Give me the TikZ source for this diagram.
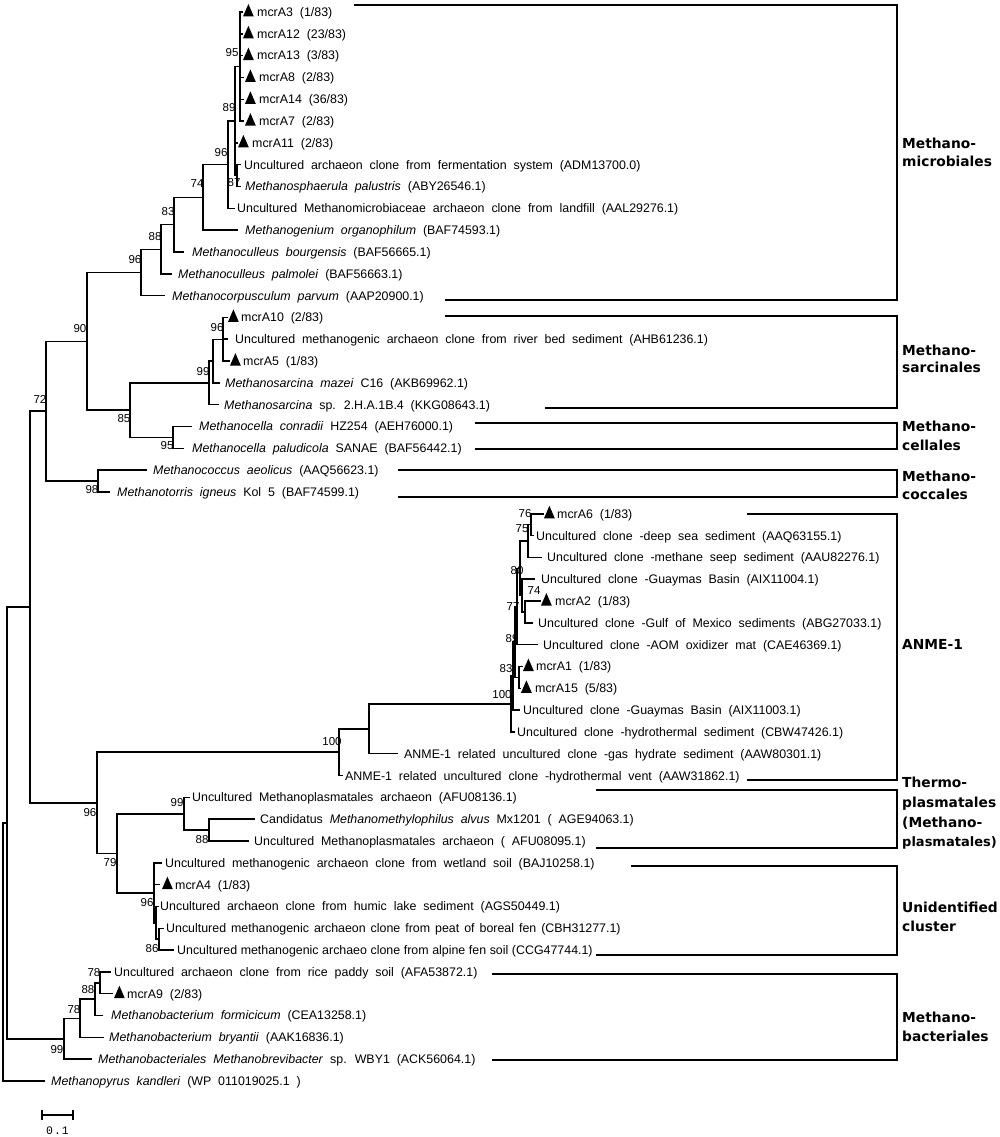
\documentclass[tikz,border=0pt]{standalone}
\usepackage{fontspec}
\setmainfont{Liberation Sans}[WordSpace={2.0,1,1}]
\newfontfamily\grpfont{DejaVu Sans Bold}
\newfontfamily\barfont{Liberation Mono}
\tikzset{
  tree/.style={line width=1.5pt},
  grp/.style={line width=1.9pt, line join=miter},
  lf/.style={anchor=base west, inner sep=0pt, font=\fontsize{12.4}{14}\selectfont},
  bs/.style={inner sep=0pt, font=\fontsize{11.5}{13}\selectfont},
  gl/.style={anchor=base west, inner sep=0pt, font=\fontsize{13.8}{16}\grpfont},
}
\newcommand{\mtri}[2]{\fill (#1,#2+4.5) -- ++(10.8,0) -- ++(-5.4,-12.5) -- cycle;}
\newcommand{\lfnode}[4]{\node[lf] (#1) at (#2,#3+4.4) {#4};}
\begin{document}
\begin{tikzpicture}[x=1pt,y=-1pt]
\fill[white] (0,0) rectangle (1000,1137);
\useasboundingbox (0,0) rectangle (1000,1137);

% ---------- leaf branch ends ----------
\coordinate (e0) at (243,12.0);
\coordinate (e1) at (243,33.8);
\coordinate (e2) at (243,55.6);
\coordinate (e3) at (244,77.4);
\coordinate (e4) at (244,99.3);
\coordinate (e5) at (244,121.1);
\coordinate (e6) at (238,142.9);
\coordinate (e7) at (241,164.7);
\coordinate (e8) at (241,186.5);
\coordinate (e9) at (235,208.3);
\coordinate (e10) at (238,230.2);
\coordinate (e11) at (184,252.0);
\coordinate (e12) at (172,273.8);
\coordinate (e13) at (165,295.6);
\coordinate (e14) at (228,317.4);
\coordinate (e15) at (228,339.2);
\coordinate (e16) at (230,361.1);
\coordinate (e17) at (220,382.9);
\coordinate (e18) at (219,404.7);
\coordinate (e19) at (192,426.5);
\coordinate (e20) at (184,448.3);
\coordinate (e21) at (147,470.1);
\coordinate (e22) at (110,492.0);
\coordinate (e23) at (544,513.8);
\coordinate (e24) at (534,535.6);
\coordinate (e25) at (542,557.4);
\coordinate (e26) at (535,579.2);
\coordinate (e27) at (541,601.0);
\coordinate (e28) at (533,622.8);
\coordinate (e29) at (538,644.7);
\coordinate (e30) at (523,666.5);
\coordinate (e31) at (521,688.3);
\coordinate (e32) at (520,710.1);
\coordinate (e33) at (515,731.9);
\coordinate (e34) at (398,753.7);
\coordinate (e35) at (343,775.6);
\coordinate (e36) at (190,797.4);
\coordinate (e37) at (255,819.2);
\coordinate (e38) at (249,841.0);
\coordinate (e39) at (162,862.8);
\coordinate (e40) at (160,884.6);
\coordinate (e41) at (159,906.5);
\coordinate (e42) at (164,928.3);
\coordinate (e43) at (174,950.1);
\coordinate (e44) at (111,971.9);
\coordinate (e45) at (113,993.7);
\coordinate (e46) at (103,1015.5);
\coordinate (e47) at (104,1037.4);
\coordinate (e48) at (92,1059.2);
\coordinate (e49) at (45,1081.0);

% ---------- internal nodes ----------
\coordinate (n95a) at (240,66.6);
\coordinate (n87) at (237,175.6);
\coordinate (n89a) at (235,121.1);
\coordinate (n96a) at (228,164.7);
\coordinate (n74a) at (203,197.45);
\coordinate (n83a) at (174,224.7);
\coordinate (n88a) at (161,249.25);
\coordinate (n96b) at (141,272.4);
\coordinate (n96c) at (223,339.25);
\coordinate (nA) at (213,361.1);
\coordinate (n99a) at (209,382.9);
\coordinate (n95b) at (173,437.4);
\coordinate (n85) at (130,410.15);
\coordinate (n90) at (87,341.3);
\coordinate (n98) at (98,481.05);
\coordinate (n72) at (46,411.2);
\coordinate (n76) at (531,524.7);
\coordinate (n75) at (528,541.05);
\coordinate (n74b) at (525,611.9);
\coordinate (n77) at (522,595.55);
\coordinate (n80) at (520,568.3);
\coordinate (n89b) at (517,606.5);
\coordinate (n83b) at (519,677.4);
\coordinate (na) at (515,641.95);
\coordinate (nb) at (513,676.0);
\coordinate (n100a) at (511,703.95);
\coordinate (n369) at (369,728.8);
\coordinate (n100b) at (339,752.2);
\coordinate (n88b) at (209,830.1);
\coordinate (n99b) at (184,813.75);
\coordinate (n86) at (159,939.2);
\coordinate (nin) at (156,922.85);
\coordinate (n96d) at (154,892.8);
\coordinate (n79) at (117,853.3);
\coordinate (n96e) at (97,802.75);
\coordinate (n30) at (30,606.98);
\coordinate (n78a) at (100,982.8);
\coordinate (n88c) at (95,999.15);
\coordinate (n78b) at (80,1018.3);
\coordinate (n99c) at (64,1038.75);
\coordinate (n7) at (7,822.9);
\coordinate (root) at (3,951.95);

% ---------- branches ----------
\draw[tree]
 (n95a) |- (e0) (n95a) |- (e1) (n95a) |- (e2) (n95a) |- (e3) (n95a) |- (e4) (n95a) |- (e5)
 (n87) |- (e7) (n87) |- (e8)
 (n89a) |- (n95a) (n89a) |- (e6) (n89a) |- (n87)
 (n96a) |- (n89a) (n96a) |- (e9)
 (n74a) |- (n96a) (n74a) |- (e10)
 (n83a) |- (n74a) (n83a) |- (e11)
 (n88a) |- (n83a) (n88a) |- (e12)
 (n96b) |- (n88a) (n96b) |- (e13)
 (n96c) |- (e14) (n96c) |- (e15) (n96c) |- (e16)
 (nA) |- (n96c) (nA) |- (e17)
 (n99a) |- (nA) (n99a) |- (e18)
 (n95b) |- (e19) (n95b) |- (e20)
 (n85) |- (n99a) (n85) |- (n95b)
 (n90) |- (n96b) (n90) |- (n85)
 (n98) |- (e21) (n98) |- (e22)
 (n72) |- (n90) (n72) |- (n98)
 (n76) |- (e23) (n76) |- (e24)
 (n75) |- (n76) (n75) |- (e25)
 (n74b) |- (e27) (n74b) |- (e28)
 (n77) |- (e26) (n77) |- (n74b)
 (n80) |- (n75) (n80) |- (n77)
 (n89b) |- (n80) (n89b) |- (e29)
 (n83b) |- (e30) (n83b) |- (e31)
 (na) |- (n89b) (na) |- (n83b)
 (nb) |- (na) (nb) |- (e32)
 (n100a) |- (nb) (n100a) |- (e33)
 (n369) |- (n100a) (n369) |- (e34)
 (n100b) |- (n369) (n100b) |- (e35)
 (n88b) |- (e37) (n88b) |- (e38)
 (n99b) |- (e36) (n99b) |- (n88b)
 (n86) |- (e42) (n86) |- (e43)
 (nin) |- (e41) (nin) |- (n86)
 (n96d) |- (e39) (n96d) |- (e40) (n96d) |- (nin)
 (n79) |- (n99b) (n79) |- (n96d)
 (n96e) |- (n100b) (n96e) |- (n79)
 (n30) |- (n72) (n30) |- (n96e)
 (n78a) |- (e44) (n78a) |- (e45)
 (n88c) |- (n78a) (n88c) |- (e46)
 (n78b) |- (n88c) (n78b) |- (e47)
 (n99c) |- (n78b) (n99c) |- (e48)
 (n7) |- (n30) (n7) |- (n99c)
 (root) |- (n7) (root) |- (e49);

% ---------- triangles ----------
\mtri{243}{12.0}
\mtri{243}{33.8}
\mtri{243}{55.6}
\mtri{245}{77.4}
\mtri{245}{99.3}
\mtri{245}{121.1}
\mtri{238}{142.9}
\mtri{228}{317.4}
\mtri{230}{361.1}
\mtri{544}{513.8}
\mtri{541}{601.0}
\mtri{523}{666.5}
\mtri{521}{688.3}
\mtri{162}{884.6}
\mtri{114}{993.7}

% ---------- leaf labels ----------
\lfnode{L0}{257}{12.0}{mcrA3 (1/83)}
\lfnode{L1}{257}{33.8}{mcrA12 (23/83)}
\lfnode{L2}{257}{55.6}{mcrA13 (3/83)}
\lfnode{L3}{259}{77.4}{mcrA8 (2/83)}
\lfnode{L4}{259}{99.3}{mcrA14 (36/83)}
\lfnode{L5}{259}{121.1}{mcrA7 (2/83)}
\lfnode{L6}{252}{142.9}{mcrA11 (2/83)}
\lfnode{L7}{244}{164.7}{Uncultured archaeon clone from fermentation system (ADM13700.0)}
\lfnode{L8}{245}{186.5}{\textit{Methanosphaerula palustris} (ABY26546.1)}
\lfnode{L9}{237}{208.3}{Uncultured Methanomicrobiaceae archaeon clone from landfill (AAL29276.1)}
\lfnode{L10}{245}{230.2}{\textit{Methanogenium organophilum} (BAF74593.1)}
\lfnode{L11}{192}{252.0}{\textit{Methanoculleus bourgensis} (BAF56665.1)}
\lfnode{L12}{178}{273.8}{\textit{Methanoculleus palmolei} (BAF56663.1)}
\lfnode{L13}{172}{295.6}{\textit{Methanocorpusculum parvum} (AAP20900.1)}
\lfnode{L14}{241}{317.4}{mcrA10 (2/83)}
\lfnode{L15}{235}{339.2}{Uncultured methanogenic archaeon clone from river bed sediment (AHB61236.1)}
\lfnode{L16}{243}{361.1}{mcrA5 (1/83)}
\lfnode{L17}{225}{382.9}{\textit{Methanosarcina mazei} C16 (AKB69962.1)}
\lfnode{L18}{224}{404.7}{\textit{Methanosarcina} sp. 2.H.A.1B.4 (KKG08643.1)}
\lfnode{L19}{199}{426.5}{\textit{Methanocella conradii} HZ254 (AEH76000.1)}
\lfnode{L20}{192}{448.3}{\textit{Methanocella paludicola} SANAE (BAF56442.1)}
\lfnode{L21}{153}{470.1}{\textit{Methanococcus aeolicus} (AAQ56623.1)}
\lfnode{L22}{117}{492.0}{\textit{Methanotorris igneus} Kol 5 (BAF74599.1)}
\lfnode{L23}{557}{513.8}{mcrA6 (1/83)}
\lfnode{L24}{536}{535.6}{Uncultured clone -deep sea sediment (AAQ63155.1)}
\lfnode{L25}{547}{557.4}{Uncultured clone -methane seep sediment (AAU82276.1)}
\lfnode{L26}{541}{579.2}{Uncultured clone -Guaymas Basin (AIX11004.1)}
\lfnode{L27}{555}{601.0}{mcrA2 (1/83)}
\lfnode{L28}{538}{622.8}{Uncultured clone -Gulf of Mexico sediments (ABG27033.1)}
\lfnode{L29}{543}{644.7}{Uncultured clone -AOM oxidizer mat (CAE46369.1)}
\lfnode{L30}{536}{666.5}{mcrA1 (1/83)}
\lfnode{L31}{535}{688.3}{mcrA15 (5/83)}
\lfnode{L32}{523}{710.1}{Uncultured clone -Guaymas Basin (AIX11003.1)}
\lfnode{L33}{517}{731.9}{Uncultured clone -hydrothermal sediment (CBW47426.1)}
\lfnode{L34}{404}{753.7}{ANME-1 related uncultured clone -gas hydrate sediment (AAW80301.1)}
\lfnode{L35}{345}{775.6}{ANME-1 related uncultured clone -hydrothermal vent (AAW31862.1)}
\lfnode{L36}{192}{797.4}{Uncultured Methanoplasmatales archaeon (AFU08136.1)}
\lfnode{L37}{260}{819.2}{Candidatus \textit{Methanomethylophilus alvus} Mx1201 ( AGE94063.1)}
\lfnode{L38}{254}{841.0}{Uncultured Methanoplasmatales archaeon ( AFU08095.1)}
\lfnode{L39}{165}{862.8}{Uncultured methanogenic archaeon clone from wetland soil (BAJ10258.1)}
\lfnode{L40}{175}{884.6}{mcrA4 (1/83)}
\lfnode{L41}{160}{906.5}{Uncultured archaeon clone from humic lake sediment (AGS50449.1)}
\lfnode{L42}{166}{928.3}{\spaceskip=5pt Uncultured methanogenic archaeon clone from peat of boreal fen (CBH31277.1)}
\lfnode{L43}{177}{950.1}{\spaceskip=3.6pt Uncultured methanogenic archaeo clone from alpine fen soil (CCG47744.1)}
\lfnode{L44}{114}{971.9}{Uncultured archaeon clone from rice paddy soil (AFA53872.1)}
\lfnode{L45}{127}{993.7}{mcrA9 (2/83)}
\lfnode{L46}{111}{1015.5}{\textit{Methanobacterium formicicum} (CEA13258.1)}
\lfnode{L47}{109}{1037.4}{\textit{Methanobacterium bryantii} (AAK16836.1)}
\lfnode{L48}{98}{1059.2}{\textit{Methanobacteriales Methanobrevibacter} sp. WBY1 (ACK56064.1)}
\lfnode{L49}{51}{1081.0}{\textit{Methanopyrus kandleri} (WP 011019025.1 )}

% ---------- bootstrap values ----------
\node[bs] (b1) at (232,53) {95};
\node[bs] (b2) at (229,108) {89};
\node[bs] (b3) at (221,153) {96};
\node[bs] (b4) at (234,183) {87};
\node[bs] (b5) at (197,184) {74};
\node[bs] (b6) at (168,212) {83};
\node[bs] (b7) at (155,237) {88};
\node[bs] (b8) at (135,260) {96};
\node[bs] (b9) at (80,329) {90};
\node[bs] (b10) at (217,328) {96};
\node[bs] (b11) at (203,372) {99};
\node[bs] (b12) at (40,399) {72};
\node[bs] (b13) at (124,419) {85};
\node[bs] (b14) at (167,446) {95};
\node[bs] (b15) at (92,490) {98};
\node[bs] (b16) at (525,514) {76};
\node[bs] (b17) at (522,529) {75};
\node[bs] (b18) at (517,571) {80};
\node[bs] (b19) at (534,591) {74};
\node[bs] (b20) at (513,607) {77};
\node[bs] (b21) at (512,639) {89};
\node[bs] (b22) at (506,669) {83};
\node[bs] (b23) at (502,695) {100};
\node[bs] (b24) at (332,742) {100};
\node[bs] (b25) at (90,813) {96};
\node[bs] (b26) at (177,803) {99};
\node[bs] (b27) at (202,840) {88};
\node[bs] (b28) at (110,863) {79};
\node[bs] (b29) at (147,903) {96};
\node[bs] (b30) at (152,949) {86};
\node[bs] (b31) at (94,973) {78};
\node[bs] (b32) at (88,990) {88};
\node[bs] (b33) at (74,1010) {78};
\node[bs] (b34) at (57,1050) {99};

% ---------- group brackets ----------
\draw[grp] (354,5) -| (897,300) -- (445,300);
\draw[grp] (445,316) -| (897,408) -- (545,408);
\draw[grp] (475,423) -| (897,449) -- (475,449);
\draw[grp] (398,470) -| (897,497) -- (398,497);
\draw[grp] (747,514) -| (897,780) -- (747,780);
\draw[grp] (596,790) -| (897,848) -- (596,848);
\draw[grp] (631,866) -| (897,955) -- (596,955);
\draw[grp] (492,974) -| (897,1060) -- (492,1060);

% ---------- group labels ----------
\node[gl] (g1a) at (902,148) {Methano-};
\node[gl] (g1b) at (902,166) {microbiales};
\node[gl] (g2a) at (902,355) {Methano-};
\node[gl] (g2b) at (902,372.5) {sarcinales};
\node[gl] (g3a) at (902,431) {Methano-};
\node[gl] (g3b) at (902,450) {cellales};
\node[gl] (g4a) at (902,481) {Methano-};
\node[gl] (g4b) at (902,499) {coccales};
\node[gl] (g5) at (902,649) {ANME-1};
\node[gl] (g6a) at (902,787) {Thermo-};
\node[gl] (g6b) at (902,807) {plasmatales};
\node[gl] (g6c) at (902,827) {(Methano-};
\node[gl, font=\fontsize{13}{16}\grpfont] (g6d) at (902,846) {plasmatales)};
\node[gl] (g7a) at (902,912) {Unidentified};
\node[gl] (g7b) at (902,931) {cluster};
\node[gl] (g8a) at (902,1022) {Methano-};
\node[gl] (g8b) at (902,1041) {bacteriales};

% ---------- scale bar ----------
\coordinate (sb1) at (42,1115);
\coordinate (sb2) at (73,1115);
\draw[line width=1.3pt] (sb1) -- (sb2);
\draw[line width=1.3pt] (42,1110) -- (42,1120) (73,1110) -- (73,1120);
\node[inner sep=0pt, font=\fontsize{11.5}{13}\barfont] (sbl) at (57.5,1131) {0\hspace{1pt}.\hspace{1pt}1};
\end{tikzpicture}
\end{document}
